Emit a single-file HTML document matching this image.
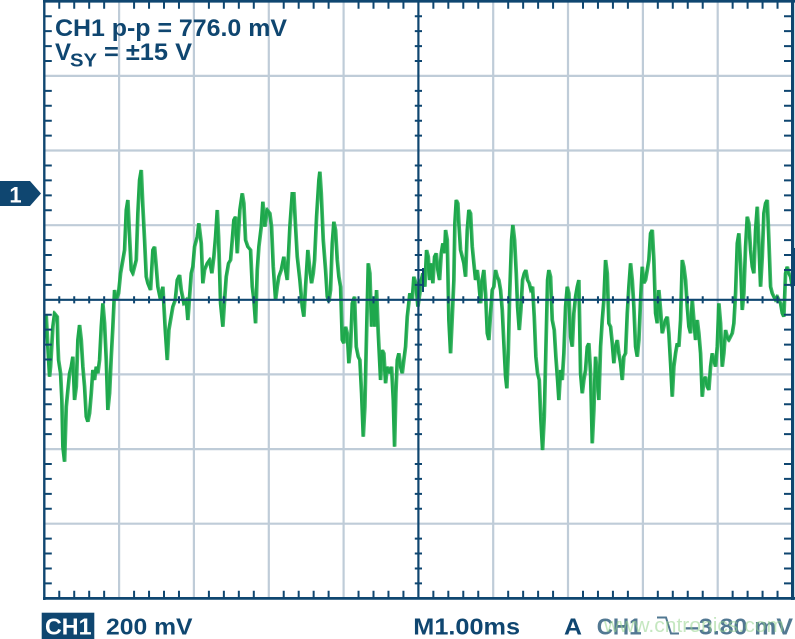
<!DOCTYPE html>
<html>
<head>
<meta charset="utf-8">
<style>
html,body{margin:0;padding:0;background:#ffffff;}
svg{display:block;}
text{font-family:"Liberation Sans",Arial,sans-serif;font-weight:bold;}
</style>
</head>
<body>
<svg width="795" height="639" viewBox="0 0 795 639" xmlns="http://www.w3.org/2000/svg" xmlns:xlink="http://www.w3.org/1999/xlink">
<rect x="0" y="0" width="795" height="639" fill="#ffffff"/>

<!-- grid -->
<g stroke="#bfccd8" stroke-width="2.2">
  <line x1="119.1" y1="1.3" x2="119.1" y2="598.3"/>
  <line x1="193.9" y1="1.3" x2="193.9" y2="598.3"/>
  <line x1="268.8" y1="1.3" x2="268.8" y2="598.3"/>
  <line x1="343.6" y1="1.3" x2="343.6" y2="598.3"/>
  <line x1="493.2" y1="1.3" x2="493.2" y2="598.3"/>
  <line x1="568.0" y1="1.3" x2="568.0" y2="598.3"/>
  <line x1="642.9" y1="1.3" x2="642.9" y2="598.3"/>
  <line x1="717.7" y1="1.3" x2="717.7" y2="598.3"/>
  <line x1="44.3" y1="75.9" x2="792.5" y2="75.9"/>
  <line x1="44.3" y1="150.5" x2="792.5" y2="150.5"/>
  <line x1="44.3" y1="225.2" x2="792.5" y2="225.2"/>
  <line x1="44.3" y1="374.4" x2="792.5" y2="374.4"/>
  <line x1="44.3" y1="449.1" x2="792.5" y2="449.1"/>
  <line x1="44.3" y1="523.7" x2="792.5" y2="523.7"/>
</g>

<!-- trace -->
<polyline id="trace" fill="none" stroke="#1ea84c" stroke-width="2.5" stroke-linejoin="miter" stroke-miterlimit="3" points="
44.5,318 45.7,316.7 47.3,347 49,376.7 50,366.7 52.3,326.7 54,313.3 56.7,316.7 57.3,343.3 58,360 60,373.3 61.3,400 62.3,446.7 64,461.7 65.7,406.7 67.3,390 69,373.3 70.7,366.7 72.3,356.7 74,400 75.7,386.7 77.3,340 79,325 80.7,340 82.3,366.7 84,386.7 85.7,416.7 87.3,421.7 89,413.3 90.7,393.3 92.3,370 94,380 95.7,366.7 97.3,373.3 99,360 100.7,326.7 102.3,303.3 104,323.3 105.7,360 107.3,410 109,393.3 110.7,356.7 112.3,326.7 114,290 115.7,300 118,293.3 120,273.3 122.3,260 124,250 125.7,210 127.3,200 129,236.7 130.7,270 132.3,273.3 134,266.7 135.7,260 137.3,213.3 139,180 140.7,170 142.3,206.7 144,240 145.7,276.7 147.3,283.3 150,290 152.3,250 154,246.7 155.7,266.7 157.3,286.7 160,300 162.3,286.7 164.7,330 166.7,360 168.3,330 170,320 172.3,306.7 174.7,300 176.7,280 179,275 180.7,290 183.3,303.3 185.7,300 187.3,320 189,296.7 190.7,273.3 192.3,266.7 194,246.7 196.7,236.7 198.3,223.3 200.7,243.3 202.3,283.3 204,270 206.7,263.3 209,260 211.3,273.3 213.3,256.7 215,236.7 216.7,210 218,236.7 220,303.3 222.3,326.7 224,300 225.7,276.7 228,263.3 230,260 231.7,240 233.3,220
235,216.7 236.7,253.3 239.3,210 241.7,193.3 243.3,203.3 245,240 247.3,246.7 250,250 251.7,286.7 253.3,300 255,323.3 256.7,270 258.3,246.7 260.7,226.7 262.3,201.7 264.3,226.7 266.7,210 269.3,213.3 271,226.7 272.7,266.7 275,300 276.7,286.7 278.3,276.7 280.7,270 283.3,256.7 285,270 286.7,280 289.3,226.7 291.7,193.3 293.3,193.3 295,226.7 296.7,256.7 299.3,280 301.7,306.7 303.3,316.7 305,286.7 307.3,250 309.3,270 311,283.3 312.7,273.3 314,260 316,216.7 318.3,180 319.3,171.7 320.7,193.3 322.7,240 325,270 326.7,296.7 328.3,301.7 330,290 331.7,243.3 333.3,221.7 335,230 336.7,260 338.3,276.7 340,286.7 341.7,340 343.3,343.3 345,326.7 346.7,333.3 348.3,363.3 350,346.7 351.7,303.3 354,296.7 355.7,346.7 357.7,356.7 359.3,360 361,393.3 362.7,436.7 364.3,406.7 366,333.3 367.7,263.3 369.3,273.3 371,326.7 372.7,300 374.3,326.7 376,290 377.7,333.3 380,380 381.7,350 383.3,353.3 385,383.3 386.7,366.7 389.3,373.3 391,366.7 392.7,400 394,446.7 395.3,393.3 396.7,360 398.3,353.3 400,366.7 401.7,373.3 403.3,360 405,346.7 406.7,316.7 409.3,293.3 411.7,300 413.3,276.7 415.3,283.3 417.3,306.7 419.3,293.3
420,283.3 422.3,273.3 424.3,286.7 426,250 427.7,256.7 429,280 430.7,263.3 432.3,283.3 434,256.7 435.7,253.3 437.3,270 439,280 440.7,253.3 442.3,243.3 444,253.3 445,230 446.7,240 448.3,320 450,353.3 451.7,316.7 453.3,280 454.3,223.3 455.7,200 457.3,203.3 458.3,223.3 460,250 461.7,256.7 463.3,263.3 465,276.7 466.7,230 468.3,210 470,213.3 471.7,246.7 473.3,263.3 475,280 476.7,270 478.3,283.3 480,303.3 481.7,280 483.3,270 485,293.3 486.7,333.3 488.3,340 490,313.3 491.7,290 493.3,286.7 495,270 496.7,276.7 498.3,280 500,290 501.7,310 503.3,343.3 505,376.7 506.3,388.3 507.7,353.3 509,296.7 511,240 512.3,225 514,240 515.7,273.3 517,306.7 518.7,330 520.3,310 522,280 523.7,273.3 525.3,270 527,280 528.7,283.3 530.3,290 532,286.7 533.7,316.7 535.3,356.7 537,373.3 538.7,380 540.3,420 542,450 543.7,416.7 545.3,350 547,280 548.3,270 550,276.7 551.7,320 553.7,330 555.3,356.7 557,380 558.3,400 560,370 561.7,380 563.3,353.3 565,306.7 566.7,286.7 568.3,293.3 570,336.7 571.7,346.7 573.3,313.3 575,296.7 576.7,286.7 578.3,280 580,373.3 581.7,393.3 583.3,380 585,370 586.7,346.7 588.3,343.3 590,373.3 591.7,443.3 593.3,410 595,356.7 596.7,373.3 598.3,400 600,346.7 601.7,320 603.3,300 605,260 606.7,273.3 608.3,323.3 610,326.7 611.7,343.3 613.3,363.3 615,346.7 616.7,340 618.3,353.3 620,363.3 621.7,380 623.3,356.7 625,353.3 626.7,313.3 628.3,286.7 630,263.3 631.7,280 633.3,306.7 635,346.7 636.7,356.7 638.3,340 640,300 641.7,266.7 643.3,283.3 645,280 646.7,270 648.3,260 650,233.3 651.7,230 653.3,260 655,313.3 656.7,323.3 658.3,290 660,310 661.7,333.3 663.3,326.7 665,320 666.7,316.7 668.3,333.3 670,363.3 671.7,396.7 673.3,366.7 675,353.3 676.7,343.3 678.3,346.7 680,320 681.7,260 683.3,266.7 685,280 686.7,306.7 688.3,326.7 690,333.3 691.7,300 693.3,320 695,340 696.7,320 698.3,333.3 700,353.3 701.7,396.7 703.3,380 705,376.7 706.7,386.7 708.3,390 710,366.7 711.7,353.3 713.3,360 715,366.7 716.7,346.7 718.3,303.3 720,323.3 721.7,366.7 723.3,353.3 725,330 726.7,336.7 728.3,340 730,336.7 731.7,333.3 733.3,323.3 735,293.3 736.7,243.3 738.3,233.3 740,263.3 741.7,310 743.3,293.3 745,246.7 746.7,216.7 748.3,223.3 750,250 751.7,266.7 753.3,273.3 755,230 756.7,206.7 758.3,243.3 760,286.7 761.7,256.7 763.3,213.3 765,203.3 766.7,200 768.3,240 770,286.7 771.7,293.3 773.3,296.7 775,300 776.7,296.7 778.3,300 780,303.3 781.7,313.3 783.3,316.7 785,273.3 786.7,266.7 788.3,273.3 790,276.7 791.7,286.7"/>
<use href="#trace" xlink:href="#trace" transform="translate(1.2,0)" opacity="0.85"/>

<!-- small trigger marks -->
<line x1="423" y1="268" x2="423" y2="292" stroke="#0f4670" stroke-width="2"/>

<!-- center axes -->
<g stroke="#0f4670" stroke-width="2.2">
  <line x1="418.4" y1="1.3" x2="418.4" y2="598.3"/>
  <line x1="44.3" y1="299.8" x2="792.5" y2="299.8"/>
</g>

<!-- ticks via dash patterns -->
<g stroke="#0f4670" fill="none">
  <!-- top border ticks -->
  <line x1="58.26" y1="5.05" x2="792" y2="5.05" stroke-width="7.5" stroke-dasharray="2 12.964 2 12.964 2 12.964 2 27.928"/>
  <!-- bottom border ticks -->
  <line x1="58.26" y1="594.55" x2="792" y2="594.55" stroke-width="7.5" stroke-dasharray="2 12.964 2 12.964 2 12.964 2 27.928"/>
  <!-- center horizontal axis ticks -->
  <line x1="58.26" y1="299.8" x2="792" y2="299.8" stroke-width="7.2" stroke-dasharray="2 12.964 2 12.964 2 12.964 2 27.928"/>
  <!-- left border ticks -->
  <line x1="48.05" y1="15.23" x2="48.05" y2="598" stroke-width="7.5" stroke-dasharray="2 12.925 2 12.925 2 12.925 2 27.85"/>
  <!-- right border ticks -->
  <line x1="787.75" y1="15.23" x2="787.75" y2="598" stroke-width="7.5" stroke-dasharray="2 12.925 2 12.925 2 12.925 2 27.85"/>
  <!-- center vertical axis ticks -->
  <line x1="418.4" y1="15.23" x2="418.4" y2="598" stroke-width="7.2" stroke-dasharray="2 12.925 2 12.925 2 12.925 2 27.85"/>
</g>

<!-- border -->
<g stroke="#0f4670" fill="none">
  <line x1="44.3" y1="0" x2="44.3" y2="600" stroke-width="2.4"/>
  <line x1="792.6" y1="0" x2="792.6" y2="600" stroke-width="3.2"/>
  <line x1="43" y1="1.3" x2="795" y2="1.3" stroke-width="2.7"/>
  <line x1="43" y1="598.4" x2="795" y2="598.4" stroke-width="2.8"/>
</g>
<line x1="793" y1="248" x2="793" y2="286" stroke="#0f4670" stroke-width="4"/>

<!-- channel marker -->
<polygon points="0,181 30,181 41,193.5 30,206 0,206" fill="#0f4670"/>
<text x="15.5" y="202.5" font-size="22" fill="#ffffff" text-anchor="middle">1</text>

<!-- annotations -->
<text x="55" y="36" font-size="24" fill="#0f4670" textLength="232" lengthAdjust="spacingAndGlyphs">CH1 p-p = 776.0 mV</text>
<text x="55" y="60" font-size="24" fill="#0f4670">V</text>
<text x="70" y="66.5" font-size="18" fill="#0f4670" textLength="27" lengthAdjust="spacingAndGlyphs">SY</text>
<text x="104" y="60" font-size="24" fill="#0f4670" textLength="88" lengthAdjust="spacingAndGlyphs">= ±15 V</text>

<!-- bottom status -->
<rect x="41.7" y="612.7" width="52.6" height="26.3" fill="#0f4670"/>
<text x="45" y="634.5" font-size="23" fill="#ffffff" textLength="46.5" lengthAdjust="spacingAndGlyphs">CH1</text>
<text x="106" y="634.5" font-size="23" fill="#0f4670" textLength="86.5" lengthAdjust="spacingAndGlyphs">200 mV</text>
<text x="413.3" y="634.5" font-size="23" fill="#0f4670" textLength="106.7" lengthAdjust="spacingAndGlyphs">M1.00ms</text>
<text x="564" y="634.5" font-size="23" fill="#0f4670" textLength="18" lengthAdjust="spacingAndGlyphs">A</text>
<text x="596.7" y="634.5" font-size="23" fill="#527892" textLength="45" lengthAdjust="spacingAndGlyphs">CH1</text>
<polyline points="657,617.5 666,617.5 671,633.5 679,633.5" fill="none" stroke="#527892" stroke-width="2"/>
<text x="685" y="634.5" font-size="23" fill="#527892" textLength="108" lengthAdjust="spacingAndGlyphs">–3.80 mV</text>

<!-- watermark -->
<text x="604" y="632" font-size="20" fill="rgba(150,212,140,0.55)" style="font-weight:normal" textLength="180" lengthAdjust="spacingAndGlyphs">www.cntronics.com</text>
</svg>
</body>
</html>
